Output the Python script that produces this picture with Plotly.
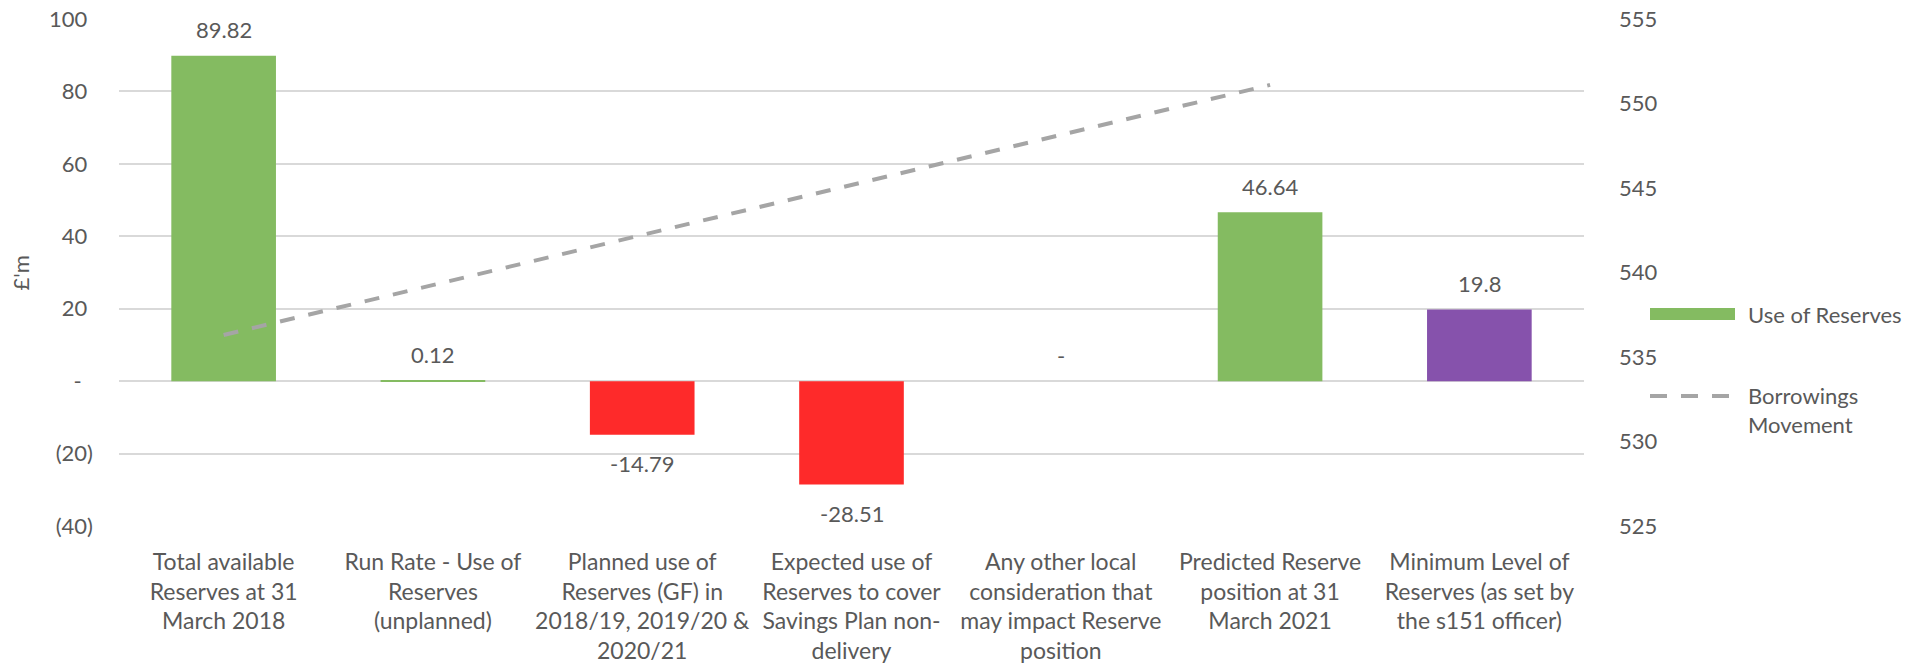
import plotly.graph_objects as go

categories = [
    "Total available<br>Reserves at 31<br>March 2018",
    "Run Rate - Use of<br>Reserves<br>(unplanned)",
    "Planned use of<br>Reserves (GF) in<br>2018/19, 2019/20 &<br>2020/21",
    "Expected use of<br>Reserves to cover<br>Savings Plan non-<br>delivery",
    "Any other local<br>consideration that<br>may impact Reserve<br>position",
    "Predicted Reserve<br>position at 31<br>March 2021",
    "Minimum Level of<br>Reserves (as set by<br>the s151 officer)",
]
reserves = [89.82, 0.12, -14.79, -28.51, 0.0, 46.64, 19.8]
borrowings = [536.3, None, None, None, None, 551.1, None]

bar_colors = ["#84BB61", "#84BB61", "#FE2A2A", "#FE2A2A", "#84BB61", "#84BB61", "#8652AC"]

left_tickvals = [100, 80, 60, 40, 20, 0, -20, -40]
left_ticktext = ["100\u00a0", "80\u00a0", "60\u00a0", "40\u00a0", "20\u00a0", "-\u00a0\u00a0", "(20)", "(40)"]
right_tickvals = [525, 530, 535, 540, 545, 550, 555]

TXT = "#595959"
FONT = "Lato"
FS = 22
FS_CAT = 23

fig = go.Figure()
fig.add_trace(go.Bar(
    x=categories, y=reserves, name="Use of Reserves",
    marker=dict(color=bar_colors, line=dict(width=0)),
    width=0.5, showlegend=False,
))
fig.add_trace(go.Scatter(
    x=categories, y=borrowings, name="Borrowings Movement", yaxis="y2",
    mode="lines", connectgaps=True,
    line=dict(color="#A5A5A5", width=4, dash="15px,14px"),
    showlegend=False,
))

annotations = []
for c, v in zip(categories, reserves):
    label = "-" if v == 0 else f"{v:g}"
    annotations.append(dict(
        x=c, y=v, xref="x", yref="y", text=label, showarrow=False,
        yshift=26 if v >= 0 else -29, yanchor="middle",
        font=dict(family=FONT, size=FS, color=TXT),
    ))

# axis title
annotations.append(dict(
    x=-0.0669, y=0.5, xref="paper", yref="paper", text="£'m", textangle=-90,
    showarrow=False, xanchor="center", yanchor="middle",
    font=dict(family=FONT, size=FS, color=TXT),
))

# manual legend
L, T, W, H = 119, 19, 1465, 507
def px(x):
    return (x - L) / W
def py(y):
    return (T + H - y) / H

shapes = [
    dict(type="rect", xref="paper", yref="paper",
         x0=px(1650), x1=px(1735), y0=py(320), y1=py(308),
         fillcolor="#84BB61", line=dict(width=0)),
    dict(type="line", xref="paper", yref="paper",
         x0=px(1650), x1=px(1737), y0=py(396), y1=py(396),
         line=dict(color="#A5A5A5", width=4, dash="17px,14px")),
]
annotations.append(dict(
    x=px(1746), y=py(314), xref="paper", yref="paper", text="Use of Reserves",
    showarrow=False, xanchor="left", yanchor="middle",
    font=dict(family=FONT, size=FS, color=TXT),
))
annotations.append(dict(
    x=px(1746), y=py(396), xref="paper", yref="paper", text="Borrowings<br>Movement",
    showarrow=False, xanchor="left", yanchor="top", yshift=16, align="left",
    font=dict(family=FONT, size=FS, color=TXT),
))

fig.update_layout(
    width=1910, height=666,
    margin=dict(l=119, r=326, t=19, b=140, autoexpand=False),
    paper_bgcolor="white", plot_bgcolor="white",
    font=dict(family=FONT, size=FS, color=TXT),
    xaxis=dict(
        type="category", showgrid=False, showline=False, zeroline=False,
        ticks="outside", ticklen=0, tickcolor="white",
        ticklabelstandoff=15, automargin=False,
        tickfont=dict(family=FONT, size=FS_CAT, color=TXT),
    ),
    yaxis=dict(
        range=[-40, 100], tickvals=left_tickvals, ticktext=left_ticktext,
        showgrid=True, gridcolor="#D9D9D9", gridwidth=2,
        zeroline=False, showline=False,
        ticklabelstandoff=25, automargin=False,
        tickfont=dict(family=FONT, size=FS, color=TXT),
    ),
    yaxis2=dict(
        overlaying="y", side="right", range=[525, 555], tickvals=right_tickvals,
        showgrid=False, zeroline=False, showline=False,
        ticklabelstandoff=34, automargin=False,
        tickfont=dict(family=FONT, size=FS, color=TXT),
    ),
    showlegend=False,
    annotations=annotations,
    shapes=shapes,
)

fig.write_html("out.html")
